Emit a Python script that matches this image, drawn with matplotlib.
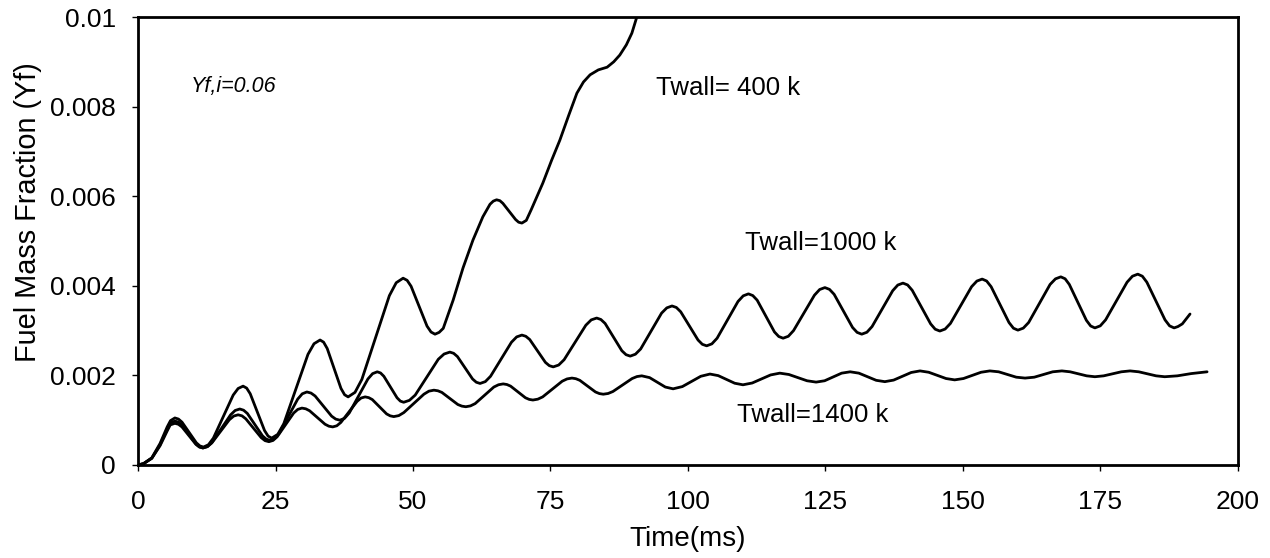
import numpy as np
import matplotlib.pyplot as plt

plt.rcParams['font.family'] = ['Liberation Sans', 'DejaVu Sans']

# fuel mass fraction traces: (time ms, Yf x 1e-3)
twall_400 = [
    (0, 0), (1, 0.03), (2.5, 0.16), (4, 0.48), (5.3, 0.85), (5.9, 0.99), (6.7, 1.05),
    (7.35, 1.025), (8.0, 0.955), (9.3, 0.725), (10.6, 0.495), (11.25, 0.425), (11.9, 0.40),
    (12.8, 0.452), (13.7, 0.60), (15.5, 1.08), (17.3, 1.56), (18.2, 1.708), (19.1, 1.76),
    (19.75, 1.716), (20.4, 1.59), (21.7, 1.18), (23.0, 0.77), (23.65, 0.644), (24.3, 0.60),
    (25.4, 0.683), (26.5, 0.92), (28.7, 1.695), (30.9, 2.47), (32.0, 2.707), (33.1, 2.79),
    (33.74, 2.742), (34.4, 2.60), (35.65, 2.155), (36.9, 1.71), (37.56, 1.568), (38.2, 1.52),
    (39.45, 1.621), (40.7, 1.91), (43.2, 2.845), (45.7, 3.78), (46.95, 4.069), (48.2, 4.17),
    (48.93, 4.122), (49.65, 3.99), (51.1, 3.545), (52.55, 3.10), (53.28, 2.968), (54.0, 2.92),
    (54.75, 2.96), (55.5, 3.05), (57.3, 3.68), (59.1, 4.40), (60.9, 5.02), (62.7, 5.54),
    (64.0, 5.82), (64.6, 5.89), (65.2, 5.92), (65.8, 5.90),
    (66.35, 5.84), (67.5, 5.66), (68.65, 5.48), (69.2, 5.42), (69.8, 5.40), (70.6, 5.46),
    (71.5, 5.7), (73.6, 6.29), (75.2, 6.8), (76.7, 7.25), (78.3, 7.8),
    (79.8, 8.30), (81.0, 8.55), (82.2, 8.71), (83.7, 8.82), (85.3, 8.88),
    (86.5, 9.0), (87.6, 9.15), (88.8, 9.38), (89.8, 9.64), (90.7, 10.0),
    (91.3, 10.25),
]

twall_1000 = [
    (0, 0), (1, 0.03), (2.5, 0.15), (4, 0.45), (5.3, 0.8), (5.86, 0.94), (6.7, 0.98),
    (7.34, 0.957), (7.98, 0.89), (9.25, 0.68), (10.53, 0.47), (11.16, 0.403), (11.8, 0.38),
    (12.64, 0.413), (13.48, 0.51), (15.15, 0.815), (16.83, 1.12), (17.66, 1.217), (18.5, 1.25),
    (19.19, 1.223), (19.88, 1.15), (21.25, 0.90), (22.63, 0.65), (23.31, 0.577), (24.0, 0.55),
    (24.84, 0.591), (25.68, 0.71), (27.35, 1.09), (29.03, 1.47), (29.86, 1.589), (30.7, 1.63),
    (31.45, 1.606), (32.2, 1.54), (33.7, 1.315), (35.2, 1.09), (35.95, 1.024), (36.7, 1.0),
    (37.55, 1.041), (38.4, 1.16), (40.1, 1.54), (41.8, 1.92), (42.65, 2.039), (43.5, 2.08),
    (44.1, 2.054), (44.7, 1.98), (45.9, 1.74), (47.1, 1.50), (47.7, 1.426), (48.3, 1.40),
    (49.35, 1.443), (50.4, 1.56), (52.5, 1.96), (54.6, 2.36), (55.65, 2.477), (56.7, 2.52),
    (57.39, 2.493), (58.08, 2.42), (59.45, 2.17), (60.83, 1.92), (61.51, 1.847), (62.2, 1.82),
    (63.15, 1.861), (64.1, 1.98), (66.0, 2.36), (67.9, 2.74), (68.85, 2.859), (69.8, 2.90),
    (70.51, 2.873), (71.23, 2.80), (72.65, 2.545), (74.08, 2.29), (74.79, 2.217), (75.5, 2.19),
    (76.49, 2.231), (77.48, 2.35), (79.45, 2.735), (81.43, 3.12), (82.41, 3.239), (83.4, 3.28),
    (84.16, 3.248), (84.93, 3.16), (86.45, 2.855), (87.98, 2.55), (88.74, 2.462), (89.5, 2.43),
    (90.45, 2.473), (91.4, 2.59), (93.3, 2.99), (95.2, 3.39), (96.15, 3.507), (97.1, 3.55),
    (97.89, 3.516), (98.68, 3.42), (100.25, 3.105), (101.83, 2.79), (102.61, 2.694), (103.4, 2.66),
    (104.35, 2.704), (105.3, 2.83), (107.2, 3.24), (109.1, 3.65), (110.05, 3.776), (111.0, 3.82),
    (111.79, 3.782), (112.58, 3.68), (114.15, 3.325), (115.73, 2.97), (116.51, 2.868), (117.3, 2.83),
    (118.25, 2.873), (119.2, 3.00), (121.1, 3.395), (123.0, 3.79), (123.95, 3.917), (124.9, 3.96),
    (125.74, 3.92), (126.58, 3.81), (128.25, 3.44), (129.93, 3.07), (130.76, 2.96), (131.6, 2.92),
    (132.54, 2.963), (133.48, 3.09), (135.35, 3.49), (137.23, 3.89), (138.16, 4.017), (139.1, 4.06),
    (139.94, 4.019), (140.78, 3.90), (142.45, 3.525), (144.13, 3.15), (144.96, 3.031), (145.8, 2.99),
    (146.76, 3.034), (147.73, 3.16), (149.65, 3.57), (151.58, 3.98), (152.54, 4.106), (153.5, 4.15),
    (154.31, 4.107), (155.13, 3.98), (156.75, 3.58), (158.38, 3.18), (159.19, 3.053), (160.0, 3.01),
    (160.98, 3.055), (161.95, 3.18), (163.9, 3.605), (165.85, 4.03), (166.83, 4.155), (167.8, 4.20),
    (168.58, 4.157), (169.35, 4.03), (170.9, 3.63), (172.45, 3.23), (173.23, 3.103), (174.0, 3.06),
    (174.98, 3.106), (175.95, 3.24), (177.9, 3.66), (179.85, 4.08), (180.83, 4.214), (181.8, 4.26),
    (182.63, 4.214), (183.45, 4.08), (185.1, 3.66), (186.75, 3.24), (187.58, 3.106), (188.4, 3.06),
    (189.1, 3.09), (189.9, 3.15), (191.3, 3.37),
]

twall_1400 = [
    (0, 0), (1, 0.03), (2.5, 0.15), (4, 0.43), (5.3, 0.76), (5.86, 0.895), (6.7, 0.93),
    (7.34, 0.909), (7.98, 0.85), (9.25, 0.655), (10.53, 0.46), (11.16, 0.401), (11.8, 0.38),
    (12.6, 0.408), (13.4, 0.49), (15.0, 0.75), (16.6, 1.01), (17.4, 1.092), (18.2, 1.12),
    (18.9, 1.097), (19.6, 1.03), (21.0, 0.82), (22.4, 0.61), (23.1, 0.543), (23.8, 0.52),
    (24.55, 0.548), (25.3, 0.63), (26.8, 0.895), (28.3, 1.16), (29.05, 1.241), (29.8, 1.27),
    (30.5, 1.254), (31.2, 1.21), (32.6, 1.06), (34.0, 0.91), (34.7, 0.866), (35.4, 0.85),
    (36.14, 0.875), (36.88, 0.95), (38.35, 1.185), (39.83, 1.42), (40.56, 1.495), (41.3, 1.52),
    (41.95, 1.503), (42.6, 1.46), (43.9, 1.30), (45.2, 1.14), (45.85, 1.097), (46.5, 1.08),
    (47.41, 1.102), (48.33, 1.17), (50.15, 1.375), (51.98, 1.58), (52.89, 1.648), (53.8, 1.67),
    (54.53, 1.656), (55.25, 1.62), (56.7, 1.485), (58.15, 1.35), (58.88, 1.314), (59.6, 1.30),
    (60.45, 1.319), (61.3, 1.37), (63.0, 1.555), (64.7, 1.74), (65.55, 1.791), (66.4, 1.81),
    (67.08, 1.796), (67.75, 1.76), (69.1, 1.63), (70.45, 1.50), (71.13, 1.464), (71.8, 1.45),
    (72.69, 1.469), (73.58, 1.52), (75.35, 1.695), (77.13, 1.87), (78.01, 1.921), (78.9, 1.94),
    (79.61, 1.926), (80.33, 1.89), (81.75, 1.76), (83.18, 1.63), (83.89, 1.594), (84.6, 1.58),
    (85.48, 1.596), (86.35, 1.64), (88.1, 1.785), (89.85, 1.93), (90.73, 1.974), (91.6, 1.99),
    (93.03, 1.95), (94.45, 1.845), (95.88, 1.74), (97.3, 1.70),
    (98.98, 1.75), (100.65, 1.865), (102.33, 1.98), (104.0, 2.03),
    (105.5, 1.995), (107.0, 1.91), (108.5, 1.825), (110.0, 1.79),
    (111.68, 1.83), (113.35, 1.92), (115.03, 2.01), (116.7, 2.05),
    (118.35, 2.02), (120.0, 1.95), (121.65, 1.88), (123.3, 1.85),
    (124.85, 1.88), (126.4, 1.965), (127.95, 2.05), (129.5, 2.08),
    (131.08, 2.05), (132.65, 1.97), (134.23, 1.89), (135.8, 1.86),
    (137.4, 1.895), (139.0, 1.98), (140.6, 2.065), (142.2, 2.10),
    (143.78, 2.07), (145.35, 2.00), (146.93, 1.93), (148.5, 1.90),
    (150.1, 1.93), (151.7, 2.00), (153.3, 2.07), (154.9, 2.10),
    (156.5, 2.08), (158.1, 2.02), (159.7, 1.96), (161.3, 1.94),
    (162.98, 1.96), (164.65, 2.02), (166.33, 2.08), (168.0, 2.10),
    (169.5, 2.08), (171.0, 2.035), (172.5, 1.99), (174.0, 1.97),
    (175.6, 1.99), (177.2, 2.035), (178.8, 2.08), (180.4, 2.10),
    (181.98, 2.08), (183.55, 2.035), (185.13, 1.99), (186.7, 1.97),
    (189.0, 1.99), (191.5, 2.04), (194.4, 2.08),
]

x_ticks = [0, 25, 50, 75, 100, 125, 150, 175, 200]
y_ticks = [0, 0.002, 0.004, 0.006, 0.008, 0.01]
y_ticklabels = ['0', '0.002', '0.004', '0.006', '0.008', '0.01']

# curve labels: (text, t, Yf)
labels = [
    ('Twall= 400 k', 94.2, 0.00842),
    ('Twall=1000 k', 110.4, 0.00496),
    ('Twall=1400 k', 108.9, 0.00112),
]

fig = plt.figure(figsize=(12.7, 5.58), dpi=100)
ax = fig.add_axes([0.1087, 0.1667, 0.866, 0.8028])

for curve in [twall_400, twall_1000, twall_1400]:
    t, yf = zip(*curve)
    ax.plot(t, np.array(yf) * 1e-3, color='black', lw=2.0,
            solid_joinstyle='round', solid_capstyle='round')

ax.set_xlim(0, 200)
ax.set_ylim(0, 0.01)
ax.set_xticks(x_ticks)
ax.set_yticks(y_ticks)
ax.set_yticklabels(y_ticklabels)

for s in ax.spines.values():
    s.set_linewidth(2.0)
ax.tick_params(axis='both', direction='out', length=4, width=1, labelsize=19)
ax.tick_params(axis='y', pad=12)
ax.tick_params(axis='x', pad=14)

ax.set_xlabel('Time(ms)', fontsize=20, labelpad=9)
ax.set_ylabel('Fuel Mass Fraction (Yf)', fontsize=20.8)
# label sits a bit above the axis middle in the original
ax.yaxis.set_label_coords(-0.087, 0.565)

for txt, tx, ty in labels:
    ax.text(tx, ty, txt, fontsize=18.5, ha='left', va='center')
ax.text(9.5, 0.00844, 'Yf,i=0.06', fontsize=15.5, style='italic',
        ha='left', va='center')

plt.savefig('out.png', dpi=100)
